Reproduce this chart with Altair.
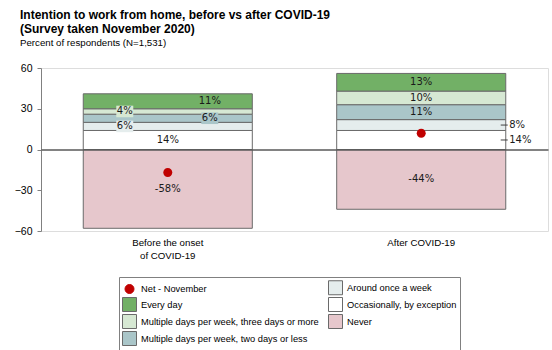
import altair as alt
import pandas as pd

# ---------------- data ----------------
categories = ["Before the onset\nof COVID-19", "After COVID-19"]
series = [
    "Every day",
    "Multiple days per week, three days or more",
    "Multiple days per week, two days or less",
    "Around once a week",
    "Occasionally, by exception",
    "Never",
]
before_vals = [11, 4, 6, 6, 14, -58]
after_vals = [13, 10, 11, 8, 14, -44]
net_label = "Net - November"
net_vals = [-17, 12]
y_ticks = [-60, -30, 0, 30, 60]

colors = {
    "Net - November": "#c00000",
    "Every day": "#72b066",
    "Multiple days per week, three days or more": "#d6e8d3",
    "Multiple days per week, two days or less": "#aac6c9",
    "Around once a week": "#e5eded",
    "Occasionally, by exception": "#ffffff",
    "Never": "#e6c7cc",
}

# label placement (style, not data)
placement = {
    (0, "Every day"): "right",
    (0, "Multiple days per week, three days or more"): "left",
    (0, "Multiple days per week, two days or less"): "right",
    (0, "Around once a week"): "left",
    (1, "Around once a week"): "outside",
    (1, "Occasionally, by exception"): "outside",
}
boxed = {
    (0, "Multiple days per week, three days or more"),
    (0, "Multiple days per week, two days or less"),
    (0, "Around once a week"),
}

# ---------------- build table ----------------
rows = []
for ci, (cat, vals) in enumerate(zip(categories, [before_vals, after_vals])):
    pos = [(s, v) for s, v in zip(series, vals) if v >= 0]
    base = 0
    for s, v in reversed(pos):
        rows.append(dict(cat=cat, series=s, y=base, y2=base + v, val=v,
                         mid=base + v / 2, label=f"{v}%",
                         place=placement.get((ci, s), "center"),
                         boxed=(ci, s) in boxed))
        base += v
    for s, v in zip(series, vals):
        if v < 0:
            rows.append(dict(cat=cat, series=s, y=0, y2=v, val=v, mid=v / 2,
                             label=f"{v}%", place=placement.get((ci, s), "center"),
                             boxed=(ci, s) in boxed))
df = pd.DataFrame(rows)
net_df = pd.DataFrame({"cat": categories, "series": [net_label] * 2, "net": net_vals})

legend_order = [net_label] + series
circle_path = "M0.643,0A0.643,0.643,0,1,1,-0.643,0A0.643,0.643,0,1,1,0.643,0Z"
fill_scale = alt.Scale(domain=legend_order, range=[colors[s] for s in legend_order])
stroke_scale = alt.Scale(domain=legend_order,
                         range=["#c00000" if s == net_label else "#6a6a6a" for s in legend_order])
shape_scale = alt.Scale(domain=legend_order,
                        range=[circle_path if s == net_label else "square" for s in legend_order])

W, H = 507, 163
FONT = "Liberation Sans"
LFONT = "DejaVu Sans"

legend = alt.Legend(
    title=None, orient="none", legendX=78, legendY=209, columns=2,
    columnPadding=7, rowPadding=-2, padding=3, strokeColor="#808080",
    symbolSize=196, symbolStrokeWidth=1, labelFont=FONT, labelFontSize=9.3,
    labelColor="#000000", labelOffset=4, labelLimit=400, symbolOpacity=1,
)

x_enc = alt.X(
    "cat:N", sort=categories, title=None,
    scale=alt.Scale(paddingInner=0.333, paddingOuter=0.1667),
    axis=alt.Axis(
        orient="bottom", offset=-81.5, domainColor="#595959", domainWidth=1.5,
        tickColor="#808080", tickSize=4, bandPosition=0, labelPadding=84,
        labelAngle=0, labelFont=FONT, labelFontSize=9.7, labelColor="#000000",
        labelBaseline="top", labelLineHeight=13,
        labelExpr="split(datum.label, '\\n')", zindex=1,
    ),
)
y_scale = alt.Scale(domain=[-60, 60], nice=False)
y_axis = alt.Axis(values=y_ticks, grid=False, domainColor="#808080",
                  tickColor="#808080", tickSize=4, labelPadding=5, labelFont=FONT,
                  labelFontSize=10.5, labelColor="#000000", title=None)

bars = alt.Chart(df).mark_bar(strokeWidth=1).encode(
    x=x_enc,
    y=alt.Y("y:Q", scale=y_scale, axis=y_axis),
    y2="y2:Q",
    fill=alt.Fill("series:N", scale=fill_scale, legend=legend),
    stroke=alt.Stroke("series:N", scale=stroke_scale, legend=legend),
)

def box(cat_i, s, dx):
    return alt.Chart(df).transform_filter(
        alt.FieldEqualPredicate(field="series", equal=s)
    ).transform_filter(
        alt.FieldEqualPredicate(field="cat", equal=categories[cat_i])
    ).mark_point(shape="M-1,-0.68L1,-0.68L1,0.68L-1,0.68Z", filled=True,
                 size=289, opacity=1, strokeWidth=0, xOffset=dx,
                 color=colors[s]).encode(
        x=alt.X("cat:N", sort=categories),
        y=alt.Y("mid:Q", scale=y_scale),
    )

def texts(place, dx, align="center"):
    return alt.Chart(df).transform_filter(f"datum.place == '{place}'").mark_text(
        font=LFONT, fontSize=10, color="#1a1a1a", align=align, baseline="middle", dx=dx
    ).encode(
        x=alt.X("cat:N", sort=categories),
        y=alt.Y("mid:Q", scale=y_scale),
        text="label:N",
    )

leaders = alt.Chart(df).transform_filter("datum.place == 'outside'").mark_point(
    shape="M-1,0L1,0", filled=False, size=49, strokeWidth=1, color="#404040",
    opacity=1, xOffset=83,
).encode(
    x=alt.X("cat:N", sort=categories),
    y=alt.Y("mid:Q", scale=y_scale),
)

dots = alt.Chart(net_df).mark_point(filled=True, size=196, opacity=1, strokeWidth=0).encode(
    x=alt.X("cat:N", sort=categories),
    y=alt.Y("net:Q", scale=y_scale),
    fill=alt.Fill("series:N", scale=fill_scale, legend=legend),
    stroke=alt.Stroke("series:N", scale=stroke_scale, legend=legend),
    shape=alt.Shape("series:N", scale=shape_scale, legend=legend),
)

box_layers = [box(0, s, dx) for s, dx in [
    ("Multiple days per week, three days or more", -43),
    ("Multiple days per week, two days or less", 42),
    ("Around once a week", -43),
]]

chart = alt.layer(
    bars,
    *box_layers,
    texts("center", 0), texts("left", -43), texts("right", 42),
    leaders, texts("outside", 88, "left"),
    dots,
).properties(
    width=W, height=H,
    autosize=alt.AutoSizeParams(type="none"),
    padding={"left": 41, "top": 68, "right": 4, "bottom": 119},
    title=alt.TitleParams(
        text=["Intention to work from home, before vs after COVID-19",
              "(Survey taken November 2020)"],
        subtitle="Percent of respondents (N=1,531)",
        anchor="start", frame="group", dx=-21, offset=14,
        font=FONT, fontSize=12, fontWeight="bold", lineHeight=14.5, color="#000000",
        subtitleFont=FONT, subtitleFontSize=9.7, subtitleColor="#000000",
        subtitlePadding=2,
    ),
).configure_view(stroke=None).configure(background="#ffffff")

chart.save("out.html", embed_options={"renderer": "svg", "actions": False})
